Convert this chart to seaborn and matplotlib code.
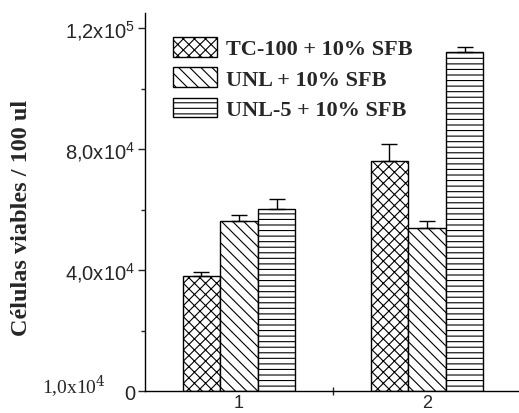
import matplotlib
matplotlib.use("Agg")
import matplotlib.pyplot as plt
import seaborn as sns
import pandas as pd
from matplotlib.patches import Patch
from matplotlib.ticker import FixedLocator

# ---- data ----
groups = ["1", "2"]
media = ["TC-100 + 10% SFB", "UNL + 10% SFB", "UNL-5 + 10% SFB"]
tc100_mean = [38000, 76000]
unl_mean = [56200, 53900]
unl5_mean = [60200, 112000]
tc100_err = [1300, 5600]
unl_err = [2000, 2300]
unl5_err = [3300, 1700]
yticks = [0, 40000, 80000, 120000]
ytick_labels = ["0", "4,0x10$^{4}$", "8,0x10$^{4}$", "1,2x10$^{5}$"]
ylabel = "Células viables / 100 ul"
stray_label = "1,0x10$^{4}$"

means = [tc100_mean, unl_mean, unl5_mean]
errs = [tc100_err, unl_err, unl5_err]
hatches = ["xxx", "\\\\\\", "---"]

rows = []
for m, vals in zip(media, means):
    for g, v in zip(groups, vals):
        rows.append({"group": g, "medium": m, "value": v})
df = pd.DataFrame(rows)

sns.set_style("ticks")
plt.rcParams["font.family"] = ["Liberation Sans", "DejaVu Sans"]
plt.rcParams["mathtext.fontset"] = "custom"
plt.rcParams["mathtext.rm"] = "Liberation Sans"
plt.rcParams["hatch.linewidth"] = 0.8
plt.rcParams["hatch.color"] = "black"

fig = plt.figure(figsize=(5.19, 4.14), dpi=100)
ax = fig.add_axes([0.2794, 0.0531, 0.7245, 0.9131])

sns.barplot(data=df, x="group", y="value", hue="medium", order=groups,
            hue_order=media, width=0.6, palette=["white"] * 3,
            edgecolor="black", linewidth=1.0, ax=ax, legend=False)

for cont, h, e in zip(ax.containers, hatches, errs):
    xs = []
    ys = []
    for p in cont.patches:
        p.set_hatch(h)
        p.set_facecolor("white")
        p.set_edgecolor("black")
        xs.append(p.get_x() + p.get_width() / 2)
        ys.append(p.get_height())
    ax.errorbar(xs, ys, yerr=[[0] * len(e), e], fmt="none", ecolor="black",
                elinewidth=1.0, capsize=6, capthick=1.0, zorder=3)

ax.set_xlim(-0.5, 1.5)
ax.set_ylim(0, 125000)
ax.set_yticks(yticks)
ax.set_yticklabels(ytick_labels)
ax.yaxis.set_minor_locator(FixedLocator([20000, 60000, 100000]))
ax.xaxis.set_minor_locator(FixedLocator([0.5]))
ax.tick_params(axis="y", which="major", direction="out", length=5, width=1,
               labelsize=14.5, pad=2)
ax.tick_params(axis="y", which="minor", direction="out", length=3, width=1)
ax.tick_params(axis="x", which="major", length=0, labelsize=13, pad=2)
ax.tick_params(axis="x", which="minor", direction="inout", length=6, width=1)
ax.set_xlabel("")
ax.set_ylabel("")
for s in ["top", "right"]:
    ax.spines[s].set_visible(False)
for s in ["left", "bottom"]:
    ax.spines[s].set_linewidth(1.0)
    ax.spines[s].set_color("black")

fig.text(0.0405, 0.4734, ylabel, rotation=90, ha="center", va="center",
         fontsize=17.5, fontweight="bold", family=["Liberation Serif"])
fig.text(0.081, 0.0652, stray_label, ha="left", va="center", fontsize=14,
         family=["Liberation Serif"], math_fontfamily="dejavuserif")

handles = [Patch(facecolor="white", edgecolor="black", hatch=h, linewidth=1.0)
           for h in hatches]
leg = ax.legend(handles, media, loc="upper left",
                bbox_to_anchor=(0.3333, 0.9085), bbox_transform=fig.transFigure,
                frameon=False, handlelength=2.0, handleheight=1.0,
                handletextpad=0.4, labelspacing=0.35, borderpad=0,
                borderaxespad=0,
                prop={"family": "Liberation Serif", "weight": "bold", "size": 16})

fig.savefig("out.png", dpi=100)
